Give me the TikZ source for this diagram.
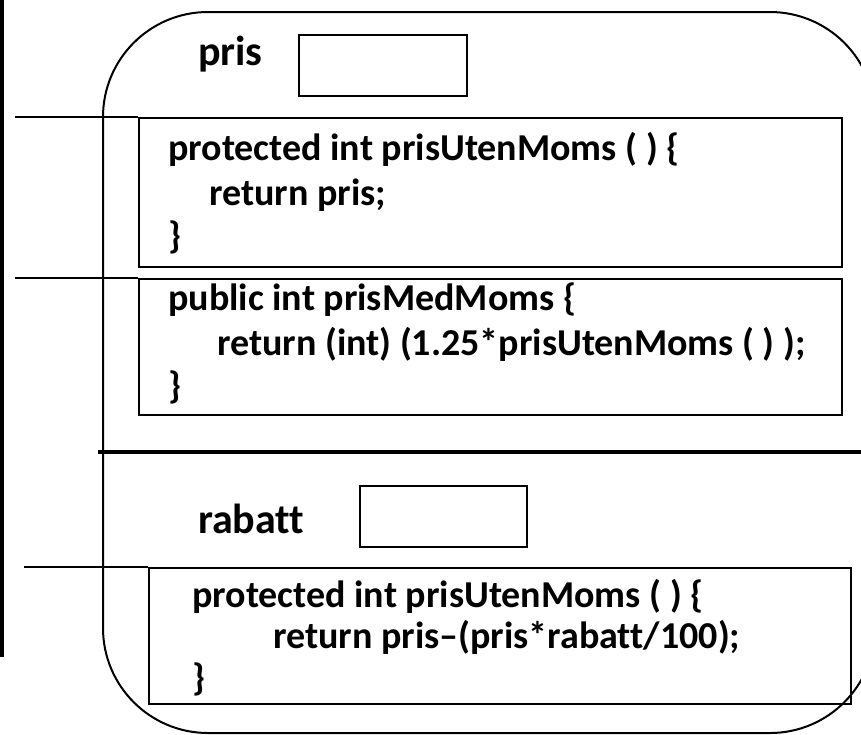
\documentclass[tikz,border=0pt]{standalone}
\usepackage{fontspec}
\setmainfont{Carlito}[Ligatures=CommonOff]
\begin{document}
\begin{tikzpicture}[x=1pt,y=-1pt,
  box/.style={draw, line width=1.5pt, rectangle, anchor=north west, inner sep=0pt},
  code/.style={anchor=base west, inner sep=0pt, font=\bfseries\fontsize{38}{44}\selectfont},
  lbl/.style={anchor=base west, inner sep=0pt, font=\bfseries\fontsize{42}{48}\selectfont},
  thin/.style={line width=1.5pt},
]
\useasboundingbox (0,0) rectangle (861,734);
\clip (0,0) rectangle (861,734);
\fill (0,0) rectangle (4,657);
\draw[line width=2pt, rounded corners=105pt] (103,12) rectangle (875,733);
% top part
\node[lbl] (pris) at (198,65) {pris};
\node[box, minimum width=168pt, minimum height=61pt] (prisbox) at (298,34) {};
\node[box, minimum width=703pt, minimum height=149pt] (m1) at (138,117) {};
\node[box, minimum width=703pt, minimum height=136pt] (m2) at (138,278) {};
\coordinate (l1) at (15,117);
\coordinate (l2) at (15,278);
\draw[thin] (l1) -- (m1.north west);
\draw[thin] (l2) -- (m2.north west);
\node[code] (m1a) at (168,160) {protected int prisUtenMoms ( ) \{};
\node[code] (m1b) at (209,205) {return pris;};
\node[code] (m1c) at (168,248) {\}};
\node[code] (m2a) at (168,310) {public int prisMedMoms \{};
\node[code] (m2b) at (217,355) {return (int) (1.25*prisUtenMoms ( ) );};
\node[code] (m2c) at (168,398) {\}};
% divider
\coordinate (d1) at (98,452);
\coordinate (d2) at (861,452);
\draw[line width=4pt] (d1) -- (d2);
% bottom part
\node[lbl] (rab) at (198,533) {rabatt};
\node[box, minimum width=167pt, minimum height=61pt] (rabbox) at (359,485) {};
\node[box, minimum width=702pt, minimum height=136pt] (m3) at (148,567) {};
\coordinate (l3) at (24,567);
\draw[thin] (l3) -- (m3.north west);
\node[code] (m3a) at (192,607) {protected int prisUtenMoms ( ) \{};
\node[code] (m3b) at (273,648) {return pris–(pris*rabatt/100);};
\node[code] (m3c) at (192,690) {\}};
\end{tikzpicture}
\end{document}
